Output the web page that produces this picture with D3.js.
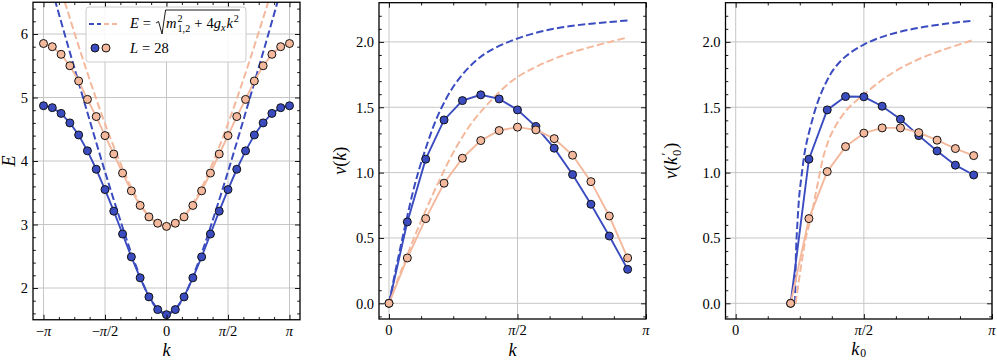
<!DOCTYPE html>
<html>
<head>
<meta charset="utf-8">
<script src="https://cdn.jsdelivr.net/npm/d3@7"></script>
<style>
    body { margin: 0; background: #fff; }
    svg { font-family: "Liberation Serif", "DejaVu Serif", serif; }
</style>
</head>
<body>
<svg id="chart" width="997" height="362"></svg>
<script>
const PI = Math.PI;
const BLUE = '#3b4cc0';
const ORANGE = '#f4b89c';

// lattice momenta k = n*pi/14 (L = 28)
const nAll = [-14,-13,-12,-11,-10,-9,-8,-7,-6,-5,-4,-3,-2,-1,0,1,2,3,4,5,6,7,8,9,10,11,12,13,14];
const nHalf = [0,1,2,3,4,5,6,7,8,9,10,11,12,13];
const nShift = [3,4,5,6,7,8,9,10,11,12,13];

// panel 1: energies E(k)
const energyBlue = [4.87,4.84,4.75,4.60,4.41,4.16,3.87,3.55,3.21,2.85,2.49,2.16,1.86,1.66,1.58,
                    1.66,1.86,2.16,2.49,2.85,3.21,3.55,3.87,4.16,4.41,4.60,4.75,4.84,4.87];
const energyOrange = [5.85,5.80,5.68,5.50,5.26,4.97,4.70,4.40,4.11,3.81,3.53,3.30,3.12,3.02,2.97,
                      3.02,3.12,3.30,3.53,3.81,4.11,4.40,4.70,4.97,5.26,5.50,5.68,5.80,5.85];
// continuum curves (dashed)
const contK = [-3.0,-2.5,-2.0,-1.5,-1.0,-0.75,-0.5,-0.25,0,0.25,0.5,0.75,1.0,1.5,2.0,2.5,3.0];
const contBlue = [6.86,5.78,4.72,3.69,2.73,2.30,1.93,1.68,1.58,1.68,1.93,2.30,2.73,3.69,4.72,5.78,6.86];
const contOrange = [7.31,6.31,5.35,4.47,3.71,3.41,3.17,3.02,2.97,3.02,3.17,3.41,3.71,4.47,5.35,6.31,7.31];

// panel 2: velocities v(k)
const velBlue = [0,0.623,1.103,1.403,1.551,1.595,1.564,1.48,1.352,1.187,0.985,0.758,0.515,0.26];
const velOrange = [0,0.347,0.648,0.919,1.110,1.245,1.322,1.348,1.327,1.260,1.133,0.931,0.668,0.347];
const velContK = [0,0.1,0.2,0.3,0.4,0.6,0.8,1.0,1.2,1.5,1.8,2.1,2.4,2.7,2.92];
const velContBlue = [0,0.31,0.60,0.87,1.09,1.44,1.67,1.82,1.92,2.01,2.07,2.11,2.135,2.152,2.165];
const velContOrange = [0,0.17,0.33,0.49,0.64,0.92,1.17,1.37,1.52,1.70,1.81,1.89,1.95,2.00,2.035];

// panel 3: velocities v(k0')
const vel0Blue = [0,1.103,1.48,1.582,1.58,1.508,1.409,1.283,1.166,1.057,0.982];
const vel0Orange = [0,0.648,1.008,1.199,1.302,1.342,1.342,1.306,1.248,1.184,1.130];
const vel0ContBlueK = [0.728,0.74,0.76,0.78,0.81,0.85,0.9,1.0,1.1,1.2,1.35,1.57,1.85,2.18,2.55,2.92];
const vel0ContBlue = [0,0.41,0.65,0.83,0.99,1.17,1.31,1.53,1.68,1.79,1.89,1.98,2.05,2.10,2.137,2.163];
const vel0ContOrangeK = [0.735,0.8,0.86,0.925,1.0,1.096,1.2,1.361,1.566,1.853,2.18,2.548,2.92];
const vel0ContOrange = [0,0.28,0.50,0.663,0.90,1.17,1.33,1.48,1.595,1.735,1.85,1.94,2.016];

const piTicksFull = [-PI, -PI/2, 0, PI/2, PI];
const piTicksHalf = [0, PI/2, PI];
const piLabels = {
    '-1': [{t:'−'}, {t:'π', it:1}],
    '-0.5': [{t:'−'}, {t:'π', it:1}, {t:'/2'}],
    '0': [{t:'0'}],
    '0.5': [{t:'π', it:1}, {t:'/2'}],
    '1': [{t:'π', it:1}]
};

const svg = d3.select('#chart');

// lay out a small piece of math text, part by part
function mathText(parent, x, y, parts, size, opts = {}) {
    const g = parent.append('g');
    const inner = g.append('g');
    let cx = 0;
    parts.forEach(p => {
        const t = inner.append('text')
            .attr('x', cx + (p.gap || 0))
            .attr('y', p.dy || 0)
            .attr('font-size', size * (p.s || 1))
            .attr('font-style', p.it ? 'italic' : null)
            .attr('fill', '#000')
            .text(p.t);
        const w = t.node().getComputedTextLength();
        if (!p.stack) cx += (p.gap || 0) + w + (p.gapR || 0);
    });
    const shift = opts.anchor === 'middle' ? -cx / 2 : (opts.anchor === 'end' ? -cx : 0);
    inner.attr('transform', `translate(${shift},0)`);
    g.attr('transform', `translate(${x},${y})` + (opts.rotate ? ` rotate(${opts.rotate})` : ''));
    return cx;
}

function tickAxis(g, axis, transform) {
    g.append('g')
        .attr('transform', transform)
        .call(axis)
        .call(a => a.select('.domain').remove())
        .call(a => a.selectAll('line').attr('stroke', '#000').attr('stroke-width', 0.9));
}

function drawPanel(c) {
    const x = d3.scaleLinear().domain(c.xDomain).range(c.xRange);
    const y = d3.scaleLinear().domain(c.yDomain).range(c.yRange);
    const [x0, x1] = c.xRange;
    const [y1, y0] = c.yRange;
    const g = svg.append('g');

    svg.append('clipPath').attr('id', 'clip' + c.id)
        .append('rect').attr('x', x0).attr('y', y0).attr('width', x1 - x0).attr('height', y1 - y0);

    // grid
    g.append('g').selectAll('line').data(c.xMajor).join('line')
        .attr('x1', d => x(d)).attr('x2', d => x(d)).attr('y1', y0).attr('y2', y1)
        .attr('stroke', '#c6c6c6').attr('stroke-width', 1);
    g.append('g').selectAll('line').data(c.yMajor).join('line')
        .attr('x1', x0).attr('x2', x1).attr('y1', d => y(d)).attr('y2', d => y(d))
        .attr('stroke', '#c6c6c6').attr('stroke-width', 1);

    const plot = g.append('g').attr('clip-path', `url(#clip${c.id})`);
    const line = d3.line().x(d => x(d[0])).y(d => y(d[1]));
    const smooth = d3.line().x(d => x(d[0])).y(d => y(d[1])).curve(d3.curveCatmullRom.alpha(0.5));

    // dashed reference curves
    c.dashed.forEach(s => {
        plot.append('path')
            .datum(d3.zip(s.k, s.v))
            .attr('d', smooth)
            .attr('fill', 'none')
            .attr('stroke', s.color)
            .attr('stroke-width', 2)
            .attr('stroke-dasharray', '7.4,3.2');
    });

    // finite-size data: line + markers
    c.series.forEach(s => {
        const pts = d3.zip(s.k, s.v);
        plot.append('path')
            .datum(pts)
            .attr('d', line)
            .attr('fill', 'none')
            .attr('stroke', s.color)
            .attr('stroke-width', 1.9);
        g.append('g').selectAll('circle').data(pts).join('circle')
            .attr('cx', d => x(d[0]))
            .attr('cy', d => y(d[1]))
            .attr('r', 4)
            .attr('fill', s.color)
            .attr('stroke', '#111')
            .attr('stroke-width', 1);
    });

    // frame
    g.append('rect')
        .attr('x', x0).attr('y', y0).attr('width', x1 - x0).attr('height', y1 - y0)
        .attr('fill', 'none').attr('stroke', '#000').attr('stroke-width', 1.3);

    // inward ticks on all four sides
    const major = 5, minor = 2.8;
    tickAxis(g, d3.axisBottom(x).tickValues(c.xMajor).tickSize(-major).tickSizeOuter(0).tickFormat(''), `translate(0,${y1})`);
    tickAxis(g, d3.axisBottom(x).tickValues(c.xMinor).tickSize(-minor).tickSizeOuter(0).tickFormat(''), `translate(0,${y1})`);
    tickAxis(g, d3.axisTop(x).tickValues(c.xMajor).tickSize(-major).tickSizeOuter(0).tickFormat(''), `translate(0,${y0})`);
    tickAxis(g, d3.axisTop(x).tickValues(c.xMinor).tickSize(-minor).tickSizeOuter(0).tickFormat(''), `translate(0,${y0})`);
    tickAxis(g, d3.axisLeft(y).tickValues(c.yMinor).tickSize(-minor).tickSizeOuter(0).tickFormat(''), `translate(${x0},0)`);
    tickAxis(g, d3.axisRight(y).tickValues(c.yMajor).tickSize(-major).tickSizeOuter(0).tickFormat(''), `translate(${x1},0)`);
    tickAxis(g, d3.axisRight(y).tickValues(c.yMinor).tickSize(-minor).tickSizeOuter(0).tickFormat(''), `translate(${x1},0)`);
    g.append('g')
        .attr('transform', `translate(${x0},0)`)
        .call(d3.axisLeft(y).tickValues(c.yMajor).tickSize(-major).tickSizeOuter(0).tickPadding(5).tickFormat(c.yFormat))
        .call(a => a.select('.domain').remove())
        .call(a => a.selectAll('line').attr('stroke', '#000').attr('stroke-width', 0.9))
        .call(a => a.attr('font-family', null).attr('font-size', 14.5))
        .call(a => a.selectAll('text').attr('fill', '#000').attr('dy', '0.33em'));

    // x tick labels in units of pi
    c.xMajor.forEach(v => {
        mathText(g, x(v), y1 + 16, piLabels[String(Math.round(v / PI * 2) / 2)], 14.5, {anchor: 'middle'});
    });

    // axis titles
    mathText(g, (x0 + x1) / 2, c.xLabelY || 356, c.xLabel, 18, {anchor: 'middle'});
    mathText(g, c.yLabelX, (y0 + y1) / 2, c.yLabel, 18, {anchor: 'middle', rotate: -90});

    return {x, y, g};
}

const piEighths = [-7,-6,-5,-3,-2,-1,1,2,3,5,6,7].map(m => m * PI / 8);
const piEighthsPos = [1,2,3,5,6,7].map(m => m * PI / 8);
const eMinor = [1.6,1.8,2.2,2.4,2.6,2.8,3.2,3.4,3.6,3.8,4.2,4.4,4.6,4.8,5.2,5.4,5.6,5.8,6.2,6.4];
const vMinor = [-0.1,0.1,0.2,0.3,0.4,0.6,0.7,0.8,0.9,1.1,1.2,1.3,1.4,1.6,1.7,1.8,1.9,2.1,2.2];
const kOf = ns => ns.map(n => n * PI / 14);

const p1 = drawPanel({
    id: 1,
    xDomain: [-3.41, 3.41], xRange: [33, 300],
    yDomain: [1.5, 6.5], yRange: [319.75, 2.25],
    xMajor: piTicksFull, xMinor: piEighths,
    yMajor: [2, 3, 4, 5, 6], yMinor: eMinor, yFormat: d3.format('d'),
    dashed: [
        {k: contK, v: contBlue, color: BLUE},
        {k: contK, v: contOrange, color: ORANGE}
    ],
    series: [
        {k: kOf(nAll), v: energyBlue, color: BLUE},
        {k: kOf(nAll), v: energyOrange, color: ORANGE}
    ],
    xLabel: [{t: 'k', it: 1}],
    yLabel: [{t: 'E', it: 1}], yLabelX: 15
});

drawPanel({
    id: 2,
    xDomain: [-0.122, PI], xRange: [379, 646],
    yDomain: [-0.12, 2.3], yRange: [319, 2.7],
    xMajor: piTicksHalf, xMinor: piEighthsPos,
    yMajor: [0, 0.5, 1, 1.5, 2], yMinor: vMinor, yFormat: d3.format('.1f'),
    dashed: [
        {k: velContK, v: velContBlue, color: BLUE},
        {k: velContK, v: velContOrange, color: ORANGE}
    ],
    series: [
        {k: kOf(nHalf), v: velBlue, color: BLUE},
        {k: kOf(nHalf), v: velOrange, color: ORANGE}
    ],
    xLabel: [{t: 'k', it: 1}],
    yLabel: [{t: 'v', it: 1}, {t: '('}, {t: 'k', it: 1}, {t: ')'}], yLabelX: 346
});

drawPanel({
    id: 3,
    xDomain: [-0.125, PI], xRange: [725.5, 992],
    yDomain: [-0.12, 2.3], yRange: [319, 2.7],
    xMajor: piTicksHalf, xMinor: piEighthsPos,
    yMajor: [0, 0.5, 1, 1.5, 2], yMinor: vMinor, yFormat: d3.format('.1f'),
    dashed: [
        {k: vel0ContBlueK, v: vel0ContBlue, color: BLUE},
        {k: vel0ContOrangeK, v: vel0ContOrange, color: ORANGE}
    ],
    series: [
        {k: kOf(nShift), v: vel0Blue, color: BLUE},
        {k: kOf(nShift), v: vel0Orange, color: ORANGE}
    ],
    xLabel: [{t: 'k', it: 1}, {t: '0', s: 0.65, dy: 2, gap: 1}], xLabelY: 355,
    yLabel: [{t: 'v', it: 1}, {t: '('}, {t: 'k', it: 1}, {t: '′', s: 0.7, dy: -7, stack: 1, gap: 1.5}, {t: '0', s: 0.7, dy: 4, gap: 1}, {t: ')', gap: 1}], yLabelX: 677
});

// legend (panel 1)
const leg = p1.g.append('g');
leg.append('rect')
    .attr('x', 86).attr('y', 7).attr('width', 160).attr('height', 55).attr('rx', 3)
    .attr('fill', '#fff').attr('fill-opacity', 0.85)
    .attr('stroke', '#cccccc').attr('stroke-width', 1);
leg.append('line').attr('x1', 89).attr('x2', 101).attr('y1', 24).attr('y2', 24)
    .attr('stroke', BLUE).attr('stroke-width', 2).attr('stroke-dasharray', '5,3');
leg.append('line').attr('x1', 104).attr('x2', 118).attr('y1', 24).attr('y2', 24)
    .attr('stroke', ORANGE).attr('stroke-width', 2).attr('stroke-dasharray', '5,3');
leg.append('circle').attr('cx', 95).attr('cy', 48).attr('r', 4)
    .attr('fill', BLUE).attr('stroke', '#111').attr('stroke-width', 1);
leg.append('circle').attr('cx', 106).attr('cy', 48).attr('r', 4)
    .attr('fill', ORANGE).attr('stroke', '#111').attr('stroke-width', 1);

const eqW = mathText(leg, 130, 28, [{t: 'E', it: 1}, {t: '=', gap: 4, gapR: 4}], 14.5);
const rx = 130 + eqW + 1;
const innerW = mathText(leg, rx + 10, 28, [
    {t: 'm', it: 1},
    {t: '2', s: 0.7, dy: -6, stack: 1, gap: 1},
    {t: '1,2', s: 0.7, dy: 4, gap: 1},
    {t: '+', gap: 4, gapR: 4},
    {t: '4'},
    {t: 'g', it: 1},
    {t: 'x', it: 1, s: 0.7, dy: 3},
    {t: 'k', it: 1, gap: 1},
    {t: '2', s: 0.7, dy: -6, gap: 1}
], 14.5);
leg.append('path')
    .attr('d', `M${rx},23 L${rx + 2.5},21.5 L${rx + 6},34 L${rx + 9.5},10 L${rx + 11 + innerW},10`)
    .attr('fill', 'none').attr('stroke', '#000').attr('stroke-width', 0.9);
mathText(leg, 130, 53, [{t: 'L', it: 1}, {t: '=', gap: 4, gapR: 4}, {t: '28'}], 14.5);
</script>
</body>
</html>
